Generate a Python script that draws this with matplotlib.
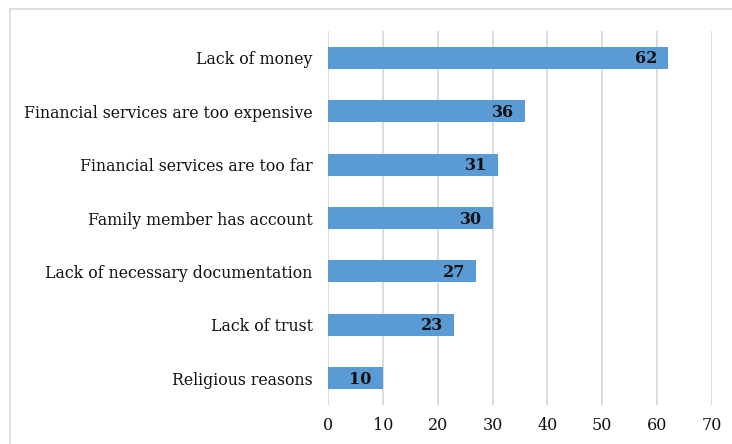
import matplotlib
matplotlib.use("Agg")
import matplotlib.pyplot as plt
from matplotlib.patches import Rectangle

# 数据
categories = [
    "Lack of money",
    "Financial services are too expensive",
    "Financial services are too far",
    "Family member has account",
    "Lack of necessary documentation",
    "Lack of trust",
    "Religious reasons",
]
values = [62, 36, 31, 30, 27, 23, 10]
x_ticks = [0, 10, 20, 30, 40, 50, 60, 70]

BAR_COLOR = "#5B9BD5"
GRID_COLOR = "#D9D9D9"
FONT = "DejaVu Serif"

fig = plt.figure(figsize=(7.32, 4.44), dpi=100)
ax = fig.add_axes([0.448, 0.088, 0.5247, 0.842])

# 外框
fig.patches.append(Rectangle((10 / 732, -0.1), 1.2, 1.1 - 9 / 444,
                             transform=fig.transFigure, fill=False,
                             edgecolor=GRID_COLOR, linewidth=1.2))

y_pos = list(range(len(categories)))
ax.barh(y_pos, values, height=0.41, color=BAR_COLOR, zorder=2)

for y, v in zip(y_pos, values):
    ax.text(v - 2.0, y + 0.02, str(v), ha="right", va="center",
            fontsize=11.5, fontweight="bold", family=FONT, color="#111111", zorder=3)

ax.set_xlim(0, 70)
ax.set_ylim(len(categories) - 0.5, -0.5)
ax.set_xticks(x_ticks)
ax.set_xticklabels([str(t) for t in x_ticks], family=FONT, fontsize=11.5)
ax.set_yticks(y_pos)
ax.set_yticklabels(categories, family=FONT, fontsize=11.3)
ax.tick_params(axis="both", length=0, colors="#111111")
ax.tick_params(axis="x", pad=9)
ax.tick_params(axis="y", pad=11)

ax.grid(axis="x", color=GRID_COLOR, linewidth=1.3, zorder=0)
for s in ax.spines.values():
    s.set_visible(False)

fig.savefig("out.png", dpi=100)
